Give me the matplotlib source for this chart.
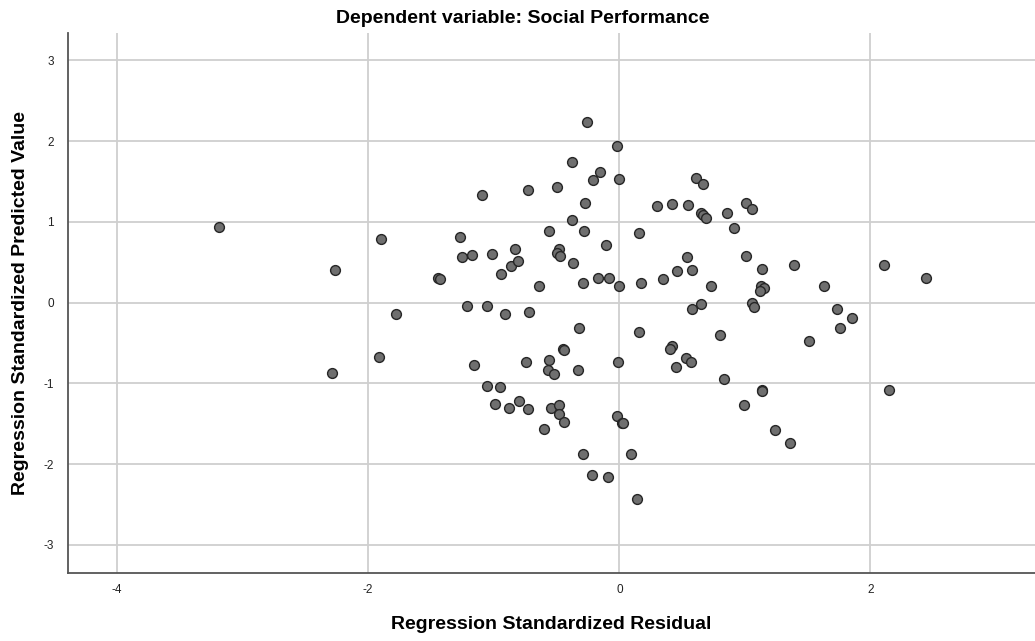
import matplotlib
matplotlib.use("Agg")
import matplotlib.pyplot as plt
import numpy as np

# Regression standardized residual (x) vs standardized predicted value (y)
residual = [
    -3.19, -2.26, -2.29, -1.90, -1.91, -1.78, -1.44, -1.43, -1.27, -1.25,
    -1.17, -1.09, -1.01, -0.94, -0.86, -0.81, -0.83, -0.73, -0.64, -0.56,
    -0.50, -0.48, -0.50, -0.47, -1.21, -1.05, -0.91, -0.72, -1.16, -0.74,
    -0.56, -0.57, -0.52, -1.05, -0.95, -0.80, -0.99, -0.88, -0.73, -0.54,
    -0.48, -0.48, -0.44, -0.60, -0.26, -0.02, -0.38, -0.15, -0.21, 0.00,
    -0.27, -0.38, -0.28, -0.11, 0.16, -0.37, -0.29, -0.17, -0.08, 0.00,
    0.17, 0.35, 0.46, 0.54, 0.58, 0.73, 0.30, 0.42, 0.55, 0.61,
    0.67, 0.65, 0.67, 0.69, 0.86, 1.01, 1.06, 0.91, 1.01, 1.14,
    1.39, 2.11, 2.44, 1.13, 1.15, 1.12, 1.63, 0.65, 0.58, 1.06,
    1.07, 1.73, 1.85, -0.32, 0.16, -0.45, -0.44, -0.33, -0.01, 0.42,
    0.40, 0.45, 0.80, 0.53, 0.57, 0.83, 1.76, 1.51, 1.14, 1.14,
    2.15, 0.99, 1.24, 1.36, -0.02, 0.02, 0.03, -0.29, 0.09, -0.22,
    -0.09, 0.14,
]
predicted = [
    0.94, 0.40, -0.87, 0.79, -0.67, -0.14, 0.31, 0.29, 0.81, 0.57,
    0.59, 1.33, 0.60, 0.35, 0.45, 0.52, 0.66, 1.40, 0.21, 0.89,
    1.43, 0.66, 0.61, 0.58, -0.04, -0.04, -0.14, -0.11, -0.77, -0.73,
    -0.71, -0.83, -0.89, -1.03, -1.04, -1.22, -1.25, -1.30, -1.32, -1.30,
    -1.27, -1.38, -1.48, -1.56, 2.24, 1.94, 1.74, 1.62, 1.52, 1.53,
    1.24, 1.02, 0.89, 0.72, 0.86, 0.49, 0.24, 0.31, 0.31, 0.20,
    0.24, 0.29, 0.39, 0.56, 0.41, 0.21, 1.20, 1.22, 1.21, 1.54,
    1.47, 1.11, 1.08, 1.05, 1.11, 1.23, 1.16, 0.92, 0.58, 0.42,
    0.47, 0.47, 0.30, 0.20, 0.18, 0.15, 0.21, -0.02, -0.08, -0.01,
    -0.05, -0.08, -0.19, -0.32, -0.37, -0.57, -0.59, -0.84, -0.74, -0.54,
    -0.58, -0.80, -0.40, -0.69, -0.74, -0.95, -0.32, -0.47, -1.08, -1.10,
    -1.08, -1.27, -1.58, -1.74, -1.40, -1.49, -1.49, -1.88, -1.87, -2.14,
    -2.16, -2.43,
]

x_ticks = [-4, -2, 0, 2]
y_ticks = [-3, -2, -1, 0, 1, 2, 3]

plt.rcParams["font.family"] = ["Liberation Sans", "DejaVu Sans"]
plt.rcParams["axes.unicode_minus"] = False

fig = plt.figure(figsize=(10.35, 6.41), dpi=100)
ax = fig.add_axes([0.0657, 0.106, 0.9343, 0.8425])

ax.scatter(
    residual,
    predicted,
    s=50,
    facecolor="#6f6f6f",
    edgecolor="#262626",
    linewidth=1.0,
    zorder=3,
)

ax.set_xlim(-4.39, 3.31)
ax.set_ylim(-3.35, 3.34)
ax.set_xticks(x_ticks)
ax.set_yticks(y_ticks)
ax.tick_params(length=0, labelsize=8.5, colors="#222222")
ax.tick_params(axis="x", pad=8)
ax.tick_params(axis="y", pad=10)
ax.grid(True, color="#cfcfcf", linewidth=1.3, zorder=0)
ax.set_axisbelow(True)

for side in ["top", "right"]:
    ax.spines[side].set_visible(False)
for side in ["left", "bottom"]:
    ax.spines[side].set_color("#555555")
    ax.spines[side].set_linewidth(1.3)

fig.text(0.505, 0.971, "Dependent variable: Social Performance",
         ha="center", va="center", fontsize=14, fontweight="bold")
fig.text(0.533, 0.025, "Regression Standardized Residual",
         ha="center", va="center", fontsize=14, fontweight="bold")
fig.text(0.0198, 0.527, "Regression Standardized Predicted Value",
         ha="center", va="center", rotation=90, fontsize=14, fontweight="bold")

fig.savefig("out.png", dpi=100)
